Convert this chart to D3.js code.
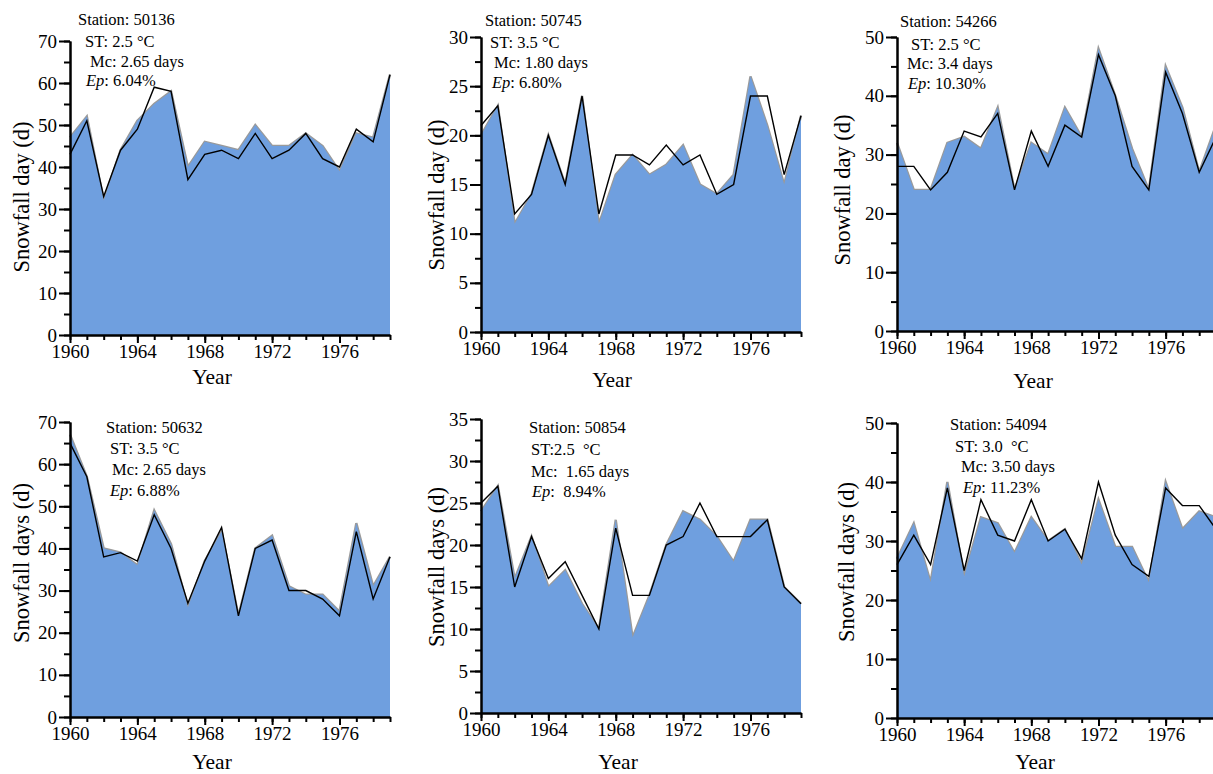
<!DOCTYPE html>
<html>
<head>
<meta charset="utf-8">
<script src="https://cdn.jsdelivr.net/npm/d3@7"></script>
</head>
<body style="margin:0">
<svg id="chart" width="1213" height="774" font-family="Liberation Serif, Times New Roman, serif"></svg>
<script>
var serif = "Liberation Serif";

// years shared by all six stations
var years = [1960, 1961, 1962, 1963, 1964, 1965, 1966, 1967, 1968, 1969,
             1970, 1971, 1972, 1973, 1974, 1975, 1976, 1977, 1978, 1979];
var yearLabels = [1960, 1964, 1968, 1972, 1976];

// observed (blue area) and simulated (black line) snowfall days
var obs50136 = [47, 52, 32, 44, 51, 55, 58, 40, 46, 45, 44, 50, 45, 45, 48, 45, 39, 48, 47, 62];
var sim50136 = [43, 51, 33, 44, 49, 59, 58, 37, 43, 44, 42, 48, 42, 44, 48, 42, 40, 49, 46, 62];

var obs50745 = [20, 23, 11, 14, 20, 15, 24, 11, 16, 18, 16, 17, 19, 15, 14, 16, 26, 21, 15, 22];
var sim50745 = [21, 23, 12, 14, 20, 15, 24, 12, 18, 18, 17, 19, 17, 18, 14, 15, 24, 24, 16, 22];

var obs54266 = [32, 24, 24, 32, 33, 31, 38, 24, 32, 30, 38, 33, 48, 40, 31, 24, 45, 38, 27, 35];
var sim54266 = [28, 28, 24, 27, 34, 33, 37, 24, 34, 28, 35, 33, 47, 40, 28, 24, 44, 37, 27, 33];

var obs50632 = [67, 57, 40, 39, 36, 49, 41, 26, 37, 44, 24, 40, 43, 31, 29, 29, 25, 46, 31, 38];
var sim50632 = [65, 57, 38, 39, 37, 48, 40, 27, 37, 45, 24, 40, 42, 30, 30, 28, 24, 44, 28, 38];

var obs50854 = [24, 27, 16, 21, 15, 17, 13, 10, 23, 9, 14, 20, 24, 23, 21, 18, 23, 23, 15, 13];
var sim50854 = [25, 27, 15, 21, 16, 18, 14, 10, 22, 14, 14, 20, 21, 25, 21, 21, 21, 23, 15, 13];

var obs54094 = [27, 33, 23, 40, 24, 34, 33, 28, 34, 30, 32, 26, 37, 29, 29, 23, 40, 32, 35, 34];
var sim54094 = [26, 31, 26, 39, 25, 37, 31, 30, 37, 30, 32, 27, 40, 31, 26, 24, 39, 36, 36, 32];

var panels = [
  { obs: obs50136, sim: sim50136, ymax: 70, minor: 5, major: 10,
    x0: 70, x1: 390, top: 41, bottom: 335,
    ytitle: "Snowfall day (d)", yt: [21, 197], xt: [212, 384],
    notes: [["Station: 50136", 78, 25], ["ST: 2.5 \u00b0C", 85, 47],
            ["Mc: 2.65 days", 90, 67], ["Ep|: 6.04%", 86, 86]] },
  { obs: obs50745, sim: sim50745, ymax: 30, minor: 2.5, major: 5,
    x0: 481, x1: 801, top: 37, bottom: 332,
    ytitle: "Snowfall day (d)", yt: [436, 195], xt: [612, 387],
    notes: [["Station: 50745", 485, 26], ["ST: 3.5 \u00b0C", 490, 48],
            ["Mc: 1.80 days", 494, 68], ["Ep|: 6.80%", 492, 88]] },
  { obs: obs54266, sim: sim54266, ymax: 50, minor: 5, major: 10,
    x0: 897, x1: 1216, top: 37, bottom: 331,
    ytitle: "Snowfall day (d)", yt: [842, 190], xt: [1033, 388],
    notes: [["Station: 54266", 900, 27], ["ST: 2.5 \u00b0C", 911, 50],
            ["Mc: 3.4 days", 907, 69], ["Ep|: 10.30%", 908, 89]] },
  { obs: obs50632, sim: sim50632, ymax: 70, minor: 5, major: 10,
    x0: 70, x1: 390, top: 422, bottom: 717,
    ytitle: "Snowfall days (d)", yt: [21, 563], xt: [212, 769],
    notes: [["Station: 50632", 106, 433], ["ST: 3.5 \u00b0C", 110, 454],
            ["Mc: 2.65 days", 112, 475], ["Ep|: 6.88%", 110, 496]] },
  { obs: obs50854, sim: sim50854, ymax: 35, minor: 2.5, major: 5,
    x0: 481, x1: 801, top: 419, bottom: 713,
    ytitle: "Snowfall days (d)", yt: [436, 567], xt: [618, 769],
    notes: [["Station: 50854", 529, 433], ["ST:2.5  \u00b0C", 531, 455],
            ["Mc:  1.65 days", 531, 477], ["Ep|:  8.94%", 532, 497]] },
  { obs: obs54094, sim: sim54094, ymax: 50, minor: 5, major: 10,
    x0: 897, x1: 1216, top: 423, bottom: 718,
    ytitle: "Snowfall days (d)", yt: [846, 562], xt: [1035, 769],
    notes: [["Station: 54094", 950, 430], ["ST: 3.0  \u00b0C", 955, 452],
            ["Mc: 3.50 days", 961, 472], ["Ep|: 11.23%", 963, 493]] }
];

var svg = d3.select("#chart");

function styleAxis(sel) {
  sel.attr("font-family", serif);
  sel.select(".domain").attr("stroke", "#000").attr("stroke-width", 2);
  sel.selectAll(".tick line").attr("stroke", "#000").attr("stroke-width", 2);
  sel.selectAll(".tick text")
    .attr("fill", "#000")
    .attr("font-family", serif)
    .attr("font-size", 19);
}

panels.forEach(function(p) {
  var x = d3.scaleLinear().domain([1960, 1979]).range([p.x0, p.x1]);
  var y = d3.scaleLinear().domain([0, p.ymax]).range([p.bottom, p.top]);
  var g = svg.append("g");

  var pts = years.map(function(yr, i) { return { yr: yr, o: p.obs[i], s: p.sim[i] }; });

  // grey edge under the blue area
  g.append("path")
    .datum(pts)
    .attr("fill", "none")
    .attr("stroke", "#9a9a9a")
    .attr("stroke-width", 2.4)
    .attr("d", d3.line().x(function(d) { return x(d.yr); }).y(function(d) { return y(d.o); }));

  g.append("path")
    .datum(pts)
    .attr("fill", "#6f9fdf")
    .attr("d", d3.area()
      .x(function(d) { return x(d.yr); })
      .y0(y(0))
      .y1(function(d) { return y(d.o); }));

  g.append("path")
    .datum(pts)
    .attr("fill", "none")
    .attr("stroke", "#000")
    .attr("stroke-width", 1.4)
    .attr("d", d3.line().x(function(d) { return x(d.yr); }).y(function(d) { return y(d.s); }));

  // y axis: minor then major ticks
  var minorY = d3.range(0, p.ymax + 0.01, p.minor);
  var majorY = d3.range(0, p.ymax + 0.01, p.major);
  g.append("g")
    .attr("transform", "translate(" + p.x0 + ",0)")
    .call(d3.axisLeft(y).tickValues(minorY).tickSize(6).tickSizeOuter(0).tickFormat(""))
    .call(styleAxis);
  g.append("g")
    .attr("transform", "translate(" + p.x0 + ",0)")
    .call(d3.axisLeft(y).tickValues(majorY).tickSize(11).tickSizeOuter(0).tickPadding(2).tickFormat(d3.format("d")))
    .call(styleAxis);

  // x axis
  g.append("g")
    .attr("transform", "translate(0," + p.bottom + ")")
    .call(d3.axisBottom(x).tickValues(years).tickSize(5).tickSizeOuter(0).tickFormat(""))
    .call(styleAxis);
  g.append("g")
    .attr("transform", "translate(0," + p.bottom + ")")
    .call(d3.axisBottom(x).tickValues(yearLabels).tickSize(8).tickSizeOuter(0).tickPadding(2).tickFormat(d3.format("d")))
    .call(styleAxis);

  g.append("text")
    .attr("transform", "translate(" + p.yt[0] + "," + p.yt[1] + ") rotate(-90)")
    .attr("text-anchor", "middle")
    .attr("dy", "0.35em")
    .attr("font-family", serif)
    .attr("font-size", 22.5)
    .text(p.ytitle);

  g.append("text")
    .attr("x", p.xt[0]).attr("y", p.xt[1])
    .attr("text-anchor", "middle")
    .attr("font-family", serif)
    .attr("font-size", 21.5)
    .text("Year");

  p.notes.forEach(function(n) {
    var t = g.append("text")
      .attr("x", n[1]).attr("y", n[2])
      .attr("font-family", serif)
      .attr("font-size", 16.5)
      .attr("xml:space", "preserve");
    var parts = n[0].split("|");
    if (parts.length > 1) {
      t.append("tspan").attr("font-style", "italic").text(parts[0]);
      t.append("tspan").text(parts[1]);
    } else {
      t.text(parts[0]);
    }
  });
});
</script>
</body>
</html>
